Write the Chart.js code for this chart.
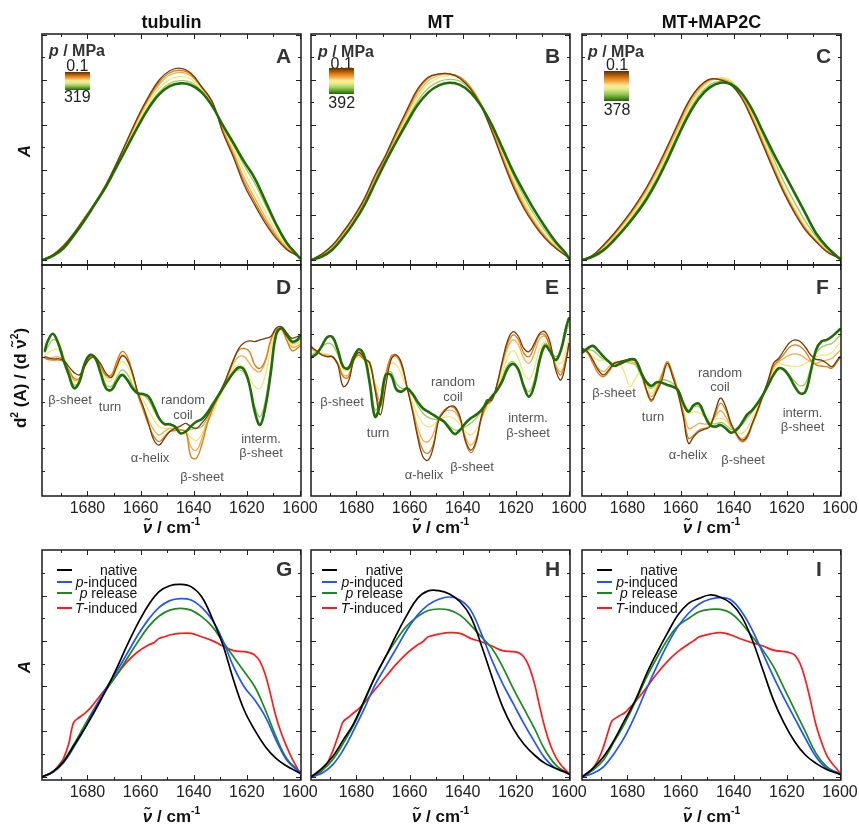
<!DOCTYPE html>
<html><head><meta charset="utf-8">
<script src="https://cdn.jsdelivr.net/npm/chart.js@4.4.0/dist/chart.umd.min.js"></script>
<style>
html,body{margin:0;padding:0;background:#fff}
body{width:859px;height:826px;position:relative;overflow:hidden;font-family:"Liberation Sans",Arial,Helvetica,sans-serif;color:#111}
canvas{position:absolute}
.t{position:absolute;white-space:nowrap;line-height:1}
.col{font-weight:bold;font-size:18px;color:#111}
.let{font-weight:bold;font-size:21px;color:#333}
.ann{font-size:13px;color:#555;text-align:center;line-height:14.5px}
.ax{font-weight:bold;font-size:17px;color:#111}
.leg{font-size:14px;color:#111}
.pl{font-weight:bold;font-size:16px;color:#333}
.num{font-size:16px;color:#222}
sup{font-size:0.6em;vertical-align:0.75em;line-height:0}
.bar,.ln{position:absolute}
</style></head><body>
<script>
// ---------- x positions (wavenumber, cm^-1) ----------
const wnAbs = [1697,1693,1689,1685,1681,1677,1673,1669,1665,1661,1657,1653,1649,1645,1641,1637,1633,1629,1625,1621,1617,1613,1609,1605,1601,1600];
const wnD = [1696,1695,1693,1691,1689,1687,1685,1683,1681,1679,1677,1675,1673,1671,1669,1667,1665,1663,1661,1659,1657,1655,1653,1651,1649,1647,1645,1643,1641,1639,1637,1635,1633,1631,1629,1627,1625,1623,1621,1619,1617,1615,1613,1611,1609,1607,1605,1603,1601,1600];
const wnEF = [1697,1695,1693,1691,1689,1687,1685,1683,1681,1679,1677,1675,1673,1671,1669,1667,1665,1663,1661,1659,1657,1655,1653,1651,1649,1647,1645,1643,1641,1639,1637,1635,1633,1631,1629,1627,1625,1623,1621,1619,1617,1615,1613,1611,1609,1607,1605,1603,1601,1600];
const wnRed = [1697,1695,1693,1691,1689,1687,1686,1685,1683,1681,1679,1677,1673,1669,1665,1661,1657,1655,1653,1651,1649,1645,1641,1637,1633,1629,1625,1621,1619,1617,1615,1613,1611,1609,1607,1605,1603,1601,1600];
const xTickLabels = [1680,1660,1640,1620,1600];

// ---------- A: tubulin absorbance, 0.1 MPa -> 319 MPa ----------
const tubAbs0 = [0,0.022,0.062,0.119,0.185,0.252,0.333,0.430,0.533,0.637,0.726,0.800,0.841,0.852,0.830,0.770,0.704,0.565,0.455,0.333,0.244,0.163,0.096,0.047,0.018,0.007];
const tubAbs1 = [0,0.024,0.065,0.122,0.190,0.258,0.338,0.432,0.532,0.632,0.720,0.790,0.832,0.843,0.825,0.768,0.700,0.572,0.465,0.348,0.258,0.175,0.105,0.050,0.019,0.007];
const tubAbs2 = [0,0.023,0.063,0.120,0.187,0.256,0.335,0.428,0.527,0.625,0.712,0.780,0.822,0.834,0.818,0.765,0.697,0.580,0.478,0.365,0.275,0.190,0.115,0.055,0.020,0.007];
const tubAbs3 = [0,0.021,0.060,0.117,0.183,0.254,0.332,0.423,0.518,0.612,0.697,0.763,0.803,0.815,0.804,0.760,0.693,0.588,0.495,0.395,0.305,0.215,0.130,0.060,0.020,0.007];
const tubAbs4 = [0,0.020,0.056,0.114,0.180,0.253,0.329,0.418,0.510,0.600,0.683,0.747,0.785,0.797,0.790,0.752,0.689,0.594,0.510,0.420,0.340,0.245,0.152,0.070,0.020,0.007];
const tubAbs5 = [0,0.018,0.052,0.111,0.178,0.252,0.326,0.415,0.504,0.593,0.674,0.736,0.773,0.785,0.778,0.745,0.684,0.598,0.519,0.437,0.363,0.262,0.160,0.077,0.021,0.008];
// ---------- B: MT absorbance, 0.1 -> 392 MPa ----------
const mtAbs0 = [0,0.027,0.067,0.126,0.193,0.274,0.378,0.467,0.570,0.667,0.759,0.812,0.827,0.827,0.807,0.759,0.681,0.570,0.444,0.326,0.230,0.156,0.096,0.052,0.018,0.006];
const mtAbs1 = [0,0.026,0.064,0.122,0.190,0.270,0.372,0.460,0.562,0.660,0.752,0.808,0.826,0.828,0.812,0.765,0.688,0.578,0.452,0.335,0.238,0.162,0.100,0.054,0.019,0.006];
const mtAbs2 = [0,0.024,0.061,0.117,0.183,0.262,0.362,0.452,0.552,0.648,0.738,0.797,0.820,0.826,0.813,0.768,0.692,0.585,0.462,0.346,0.248,0.170,0.106,0.057,0.020,0.006];
const mtAbs3 = [0,0.021,0.056,0.110,0.175,0.255,0.352,0.445,0.543,0.635,0.722,0.782,0.810,0.820,0.812,0.770,0.695,0.592,0.475,0.360,0.262,0.180,0.113,0.062,0.022,0.006];
const mtAbs4 = [0,0.018,0.050,0.104,0.170,0.250,0.345,0.440,0.535,0.622,0.705,0.763,0.793,0.803,0.795,0.757,0.690,0.597,0.487,0.378,0.283,0.200,0.130,0.070,0.024,0.006];
const mtAbs5 = [0,0.015,0.047,0.101,0.166,0.244,0.341,0.437,0.526,0.610,0.689,0.744,0.776,0.788,0.778,0.744,0.684,0.600,0.496,0.393,0.304,0.222,0.148,0.081,0.027,0.006];
// ---------- C: MT+MAP2C absorbance, 0.1 -> 378 MPa ----------
const mapAbs0 = [0,0.022,0.067,0.119,0.178,0.244,0.319,0.407,0.504,0.607,0.704,0.770,0.804,0.800,0.778,0.719,0.622,0.511,0.400,0.296,0.207,0.133,0.081,0.037,0.012,0.006];
const mapAbs1 = [0,0.021,0.064,0.116,0.175,0.240,0.315,0.402,0.498,0.600,0.698,0.766,0.802,0.802,0.781,0.724,0.628,0.518,0.407,0.302,0.212,0.138,0.084,0.039,0.012,0.006];
const mapAbs2 = [0,0.020,0.060,0.110,0.168,0.232,0.305,0.390,0.485,0.587,0.685,0.757,0.798,0.805,0.788,0.733,0.638,0.528,0.417,0.310,0.220,0.143,0.088,0.041,0.013,0.006];
const mapAbs3 = [0,0.018,0.055,0.102,0.160,0.222,0.294,0.378,0.472,0.574,0.672,0.748,0.795,0.810,0.797,0.742,0.648,0.540,0.428,0.320,0.228,0.150,0.092,0.044,0.013,0.006];
const mapAbs4 = [0,0.016,0.050,0.096,0.150,0.210,0.280,0.362,0.458,0.560,0.658,0.733,0.779,0.795,0.790,0.742,0.660,0.556,0.450,0.345,0.255,0.172,0.104,0.050,0.014,0.006];
const mapAbs5 = [0,0.015,0.044,0.089,0.141,0.200,0.267,0.348,0.444,0.548,0.644,0.719,0.767,0.788,0.781,0.741,0.667,0.570,0.474,0.385,0.296,0.207,0.119,0.059,0.015,0.006];

// ---------- D: tubulin second derivative ----------
const tubD0 = [0,-0.04,-0.10,-0.09,-0.15,-0.44,-0.70,-0.80,-0.41,-0.09,-0.04,-0.32,-0.73,-0.91,-0.44,0.03,-0.15,-0.73,-1.58,-2.19,-2.92,-3.65,-3.87,-3.58,-3.28,-3.14,-3.04,-2.92,-3.07,-3.14,-2.92,-2.63,-2.19,-1.75,-1.28,-0.73,-0.15,0.36,0.61,0.69,0.66,0.73,0.80,0.88,1.24,1.31,1.05,0.80,0.88,0.90];
const tubD1 = [-0.07,-0.12,-0.15,-0.15,-0.22,-0.58,-0.95,-0.95,-0.44,-0.03,-0.03,-0.44,-0.80,-0.80,-0.22,0.22,0,-0.73,-1.68,-2.34,-2.99,-3.50,-3.72,-3.50,-3.28,-3.24,-3.21,-3.28,-4.38,-4.45,-3.87,-2.99,-2.34,-1.82,-1.39,-0.73,-0.12,0.29,0.36,0.22,-0.36,-0.51,-0.15,0.73,1.17,1.24,0.73,0.26,0.36,0.47];
const tubD2 = [-0.07,-0.10,-0.03,0,-0.15,-0.58,-1.02,-0.95,-0.41,-0.03,-0.04,-0.44,-0.88,-0.88,-0.32,0.07,-0.15,-0.80,-1.61,-2.19,-2.77,-3.21,-3.43,-3.28,-3.14,-3.18,-3.21,-3.28,-3.95,-4.10,-3.60,-2.90,-2.30,-1.85,-1.39,-0.80,-0.29,0,0,-0.29,-0.58,-0.66,-0.22,0.66,1.17,1.17,0.73,0.41,0.47,0.55];
const tubD3 = [0.07,0.15,0.29,0.32,0,-0.58,-1.09,-1.02,-0.41,0,-0.07,-0.58,-1.02,-1.05,-0.58,-0.22,-0.41,-0.95,-1.53,-1.90,-2.34,-2.77,-3.07,-3.14,-3.14,-3.14,-3.21,-3.28,-3.55,-3.68,-3.40,-2.90,-2.50,-1.97,-1.39,-0.88,-0.51,-0.36,-0.51,-0.95,-1.31,-1.39,-0.80,0.29,1.09,1.24,0.85,0.51,0.58,0.66];
const tubD4 = [0.18,0.41,0.73,0.66,0,-0.73,-1.24,-1.09,-0.41,0,-0.12,-0.73,-1.24,-1.31,-0.91,-0.58,-0.76,-1.24,-1.58,-1.68,-1.90,-2.34,-2.74,-2.95,-2.95,-3.04,-3.21,-3.24,-3.18,-3.14,-3.07,-2.74,-2.26,-1.82,-1.39,-1.02,-0.73,-0.58,-0.70,-1.24,-2.19,-2.63,-1.90,-0.44,0.99,1.24,0.91,0.58,0.66,0.76];
const tubD5 = [0.26,0.66,1.00,0.58,-0.15,-0.80,-1.38,-1.10,-0.29,0.07,-0.07,-0.73,-1.39,-1.46,-1.09,-0.80,-1.02,-1.39,-1.61,-1.64,-1.75,-2.19,-2.70,-2.95,-2.96,-3.07,-3.36,-3.28,-3.04,-2.85,-2.74,-2.48,-2.12,-1.75,-1.39,-1.02,-0.69,-0.47,-0.58,-1.24,-2.41,-2.99,-2.19,-0.73,0.95,1.24,0.95,0.66,0.73,0.90];
// ---------- E: MT second derivative ----------
const mtD0 = [0.41,0.26,0.07,0,0,-0.36,-1.30,-1.09,-0.15,0.18,-0.07,-0.29,-1.46,-2.55,-1.31,-0.15,0.07,-0.29,-1.31,-2.34,-3.50,-4.38,-4.53,-3.94,-2.77,-2.41,-2.19,-2.19,-2.63,-3.65,-4.09,-3.72,-2.63,-1.90,-1.90,-1.17,-0.15,0.73,1.09,0.88,0.36,0.22,0.58,1.02,1.09,0.58,-0.58,-1.02,-0.15,0.58];
const mtD1 = [0.47,0.22,0.07,0,-0.03,-0.32,-0.88,-0.91,-0.15,0.07,-0.15,-0.22,-1.31,-2.19,-0.88,0,0.07,-0.36,-1.31,-2.26,-3.36,-4.09,-4.23,-3.80,-2.70,-2.34,-2.19,-2.26,-2.70,-3.72,-4.20,-3.80,-2.70,-2.12,-1.90,-1.17,-0.22,0.58,0.95,0.73,0.15,0,0.44,0.95,0.95,0.36,-0.44,-0.80,0,0.58];
const mtD2 = [0.36,0.22,0.10,0.07,0,-0.29,-0.80,-0.80,-0.15,0.07,-0.12,-0.29,-1.24,-1.90,-0.80,-0.07,0,-0.44,-1.31,-2.19,-3.07,-3.65,-3.72,-3.36,-2.70,-2.41,-2.34,-2.41,-2.77,-3.50,-3.87,-3.58,-2.77,-2.12,-1.90,-1.24,-0.36,0.41,0.73,0.51,-0.07,-0.29,0.15,0.80,0.88,0.36,-0.36,-0.66,0,0.51];
const mtD3 = [0.29,0.22,0.15,0.10,-0.03,-0.29,-0.58,-0.58,-0.15,0,-0.15,-0.44,-1.17,-1.46,-0.66,-0.29,-0.36,-0.80,-1.39,-1.97,-2.55,-2.92,-3.07,-2.99,-2.77,-2.66,-2.63,-2.74,-2.99,-3.28,-3.43,-3.21,-2.74,-2.26,-1.90,-1.39,-0.73,0,0.26,-0.07,-0.73,-0.99,-0.51,0.36,0.66,0.44,-0.15,-0.29,0.36,0.80];
const mtD4 = [0.07,0.22,0.41,0.58,0.51,0.07,-0.44,-0.44,0,0.22,0,-0.95,-2.34,-1.90,-0.80,-0.66,-1.17,-1.39,-1.39,-1.68,-2.12,-2.48,-2.66,-2.74,-2.77,-2.85,-3.04,-3.21,-3.21,-3.07,-2.92,-2.70,-2.41,-2.07,-1.75,-1.39,-0.88,-0.36,-0.22,-0.58,-1.24,-1.53,-1.02,0,0.58,0.36,0,0.29,1.09,1.39];
const mtD5 = [-0.03,0.12,0.47,0.85,0.85,0.29,-0.44,-0.51,0,0.32,0,-1.17,-2.63,-2.04,-0.80,-0.80,-1.43,-1.53,-1.39,-1.61,-1.97,-2.26,-2.41,-2.55,-2.70,-2.85,-3.14,-3.39,-3.21,-2.92,-2.70,-2.55,-2.34,-2.04,-1.75,-1.46,-1.05,-0.51,-0.32,-0.58,-1.31,-1.75,-1.24,-0.15,0.47,0.22,-0.15,0.29,1.31,1.68];
// ---------- F: MT+MAP2C second derivative ----------
const mapD0 = [0.36,0.22,-0.15,-0.58,-0.80,-0.58,-0.29,-0.22,-0.15,-0.12,-0.15,-0.58,-1.39,-1.90,-1.53,-1.02,-0.29,-0.88,-1.61,-2.63,-3.80,-3.50,-3.28,-3.18,-3.07,-2.41,-1.82,-2.19,-2.92,-3.36,-3.65,-3.50,-2.92,-2.34,-1.68,-1.02,-0.29,-0.07,0.29,0.61,0.73,0.66,0.41,0.07,-0.12,-0.15,-0.29,-0.44,-0.15,0];
const mapD1 = [0.32,0.15,-0.29,-0.73,-0.88,-0.66,-0.32,-0.22,-0.18,-0.15,-0.18,-0.66,-1.46,-1.97,-1.46,-0.80,-0.22,-0.73,-1.53,-2.48,-3.58,-3.43,-3.21,-3.14,-3.04,-2.55,-2.04,-2.34,-2.99,-3.43,-3.72,-3.58,-2.99,-2.41,-1.75,-1.09,-0.41,-0.15,0.12,0.41,0.51,0.44,0.22,-0.15,-0.36,-0.41,-0.44,-0.51,-0.22,-0.07];
const mapD2 = [0.29,0.18,-0.15,-0.51,-0.66,-0.44,-0.26,-0.22,-0.22,-0.22,-0.29,-0.70,-1.39,-1.75,-1.39,-0.80,-0.36,-0.80,-1.53,-2.34,-3.14,-3.07,-2.92,-2.95,-2.92,-2.63,-2.37,-2.63,-3.07,-3.39,-3.58,-3.43,-2.92,-2.34,-1.75,-1.09,-0.47,-0.22,-0.07,0.07,0.12,0.07,-0.07,-0.22,-0.29,-0.22,-0.15,-0.07,0.15,0.26];
const mapD3 = [0.26,0.22,0,-0.15,-0.15,-0.19,-0.29,-0.29,-0.73,-1.31,-0.95,-0.66,-1.17,-1.61,-1.24,-0.73,-0.44,-0.80,-1.39,-2.04,-2.48,-2.41,-2.45,-2.63,-2.74,-2.74,-2.70,-2.80,-3.07,-3.28,-3.36,-3.14,-2.70,-2.19,-1.68,-1.09,-0.58,-0.32,-0.36,-0.41,-0.44,-0.41,-0.29,-0.15,0,0.07,0.07,0.18,0.47,0.58];
const mapD4 = [0.22,0.29,0.26,0.07,-0.12,-0.22,-0.29,-0.26,-0.22,-0.29,-0.36,-0.80,-1.24,-1.39,-1.20,-1.02,-1.05,-1.17,-1.43,-1.97,-2.34,-2.19,-2.19,-2.55,-2.88,-2.95,-2.88,-2.99,-3.18,-3.14,-2.99,-2.70,-2.41,-2.07,-1.68,-1.20,-0.76,-0.51,-0.58,-0.80,-1.09,-1.28,-1.17,-0.51,0.15,0.41,0.51,0.58,0.80,0.91];
const mapD5 = [0.18,0.36,0.47,0.26,0,-0.22,-0.41,-0.32,-0.22,-0.12,-0.15,-0.66,-1.09,-1.28,-1.12,-1.14,-1.24,-1.31,-1.46,-2.04,-2.41,-2.12,-2.07,-2.55,-2.99,-3.07,-2.99,-3.14,-3.33,-3.21,-2.92,-2.55,-2.34,-2.04,-1.68,-1.24,-0.80,-0.51,-0.58,-0.88,-1.31,-1.61,-1.53,-0.66,0.29,0.66,0.73,0.88,1.09,1.20];

// ---------- G/H/I: native, p-induced, p release, T-induced ----------
const tubNative = [0,0.022,0.066,0.140,0.214,0.295,0.383,0.479,0.583,0.678,0.760,0.819,0.845,0.851,0.841,0.796,0.700,0.583,0.428,0.295,0.206,0.133,0.081,0.047,0.022,0.015];
const tubPInd   = [0,0.019,0.062,0.133,0.214,0.307,0.391,0.465,0.546,0.627,0.696,0.749,0.779,0.788,0.782,0.749,0.693,0.602,0.487,0.398,0.339,0.265,0.162,0.074,0.029,0.022];
const tubPRel   = [0,0.022,0.071,0.145,0.229,0.310,0.383,0.450,0.524,0.597,0.664,0.711,0.737,0.745,0.737,0.708,0.664,0.597,0.531,0.465,0.398,0.295,0.177,0.081,0.032,0.022];
const tubTInd   = [0,0.007,0.022,0.047,0.081,0.147,0.206,0.243,0.263,0.280,0.302,0.332,0.391,0.450,0.509,0.553,0.583,0.593,0.612,0.619,0.627,0.634,0.634,0.619,0.602,0.578,0.558,0.553,0.549,0.538,0.509,0.450,0.361,0.265,0.192,0.133,0.081,0.037,0.015];
const mtNative = [0,0.037,0.088,0.162,0.236,0.339,0.442,0.531,0.627,0.715,0.789,0.822,0.823,0.808,0.774,0.708,0.583,0.442,0.310,0.214,0.145,0.096,0.059,0.037,0.018,0.012];
const mtPInd   = [0,0.015,0.052,0.118,0.206,0.302,0.406,0.487,0.568,0.649,0.715,0.760,0.785,0.795,0.782,0.737,0.634,0.516,0.413,0.324,0.236,0.155,0.081,0.037,0.018,0.012];
const mtPRel   = [0,0.027,0.074,0.147,0.229,0.332,0.442,0.531,0.605,0.667,0.708,0.735,0.742,0.737,0.715,0.671,0.619,0.568,0.487,0.391,0.302,0.214,0.118,0.052,0.019,0.012];
const mtTInd   = [0,0.007,0.027,0.059,0.111,0.177,0.212,0.243,0.263,0.283,0.302,0.327,0.386,0.442,0.498,0.546,0.583,0.597,0.619,0.625,0.631,0.637,0.634,0.612,0.597,0.578,0.558,0.553,0.549,0.531,0.487,0.413,0.310,0.214,0.140,0.088,0.052,0.027,0.015];
const mapNative = [0,0.037,0.088,0.162,0.251,0.339,0.450,0.546,0.634,0.715,0.767,0.789,0.804,0.794,0.767,0.708,0.605,0.472,0.339,0.236,0.155,0.096,0.059,0.032,0.015,0.010];
const mapPInd   = [0,0.015,0.044,0.103,0.177,0.273,0.383,0.487,0.583,0.664,0.723,0.764,0.785,0.792,0.782,0.730,0.649,0.546,0.442,0.347,0.258,0.170,0.088,0.037,0.018,0.012];
const mapPRel   = [0,0.029,0.074,0.155,0.236,0.332,0.435,0.524,0.605,0.667,0.700,0.730,0.740,0.740,0.723,0.678,0.619,0.560,0.487,0.391,0.295,0.199,0.103,0.044,0.018,0.012];
const mapTInd   = [0,0.012,0.037,0.074,0.133,0.209,0.243,0.255,0.270,0.283,0.307,0.332,0.391,0.454,0.509,0.553,0.587,0.602,0.619,0.625,0.631,0.637,0.627,0.608,0.593,0.578,0.560,0.553,0.549,0.538,0.501,0.428,0.332,0.229,0.155,0.096,0.059,0.032,0.015];

const columnTitles = ['tubulin','MT','MT+MAP2C'];
const panelLetters = [['A','B','C'],['D','E','F'],['G','H','I']];
const pressureMax = ['319','392','378'];
const seriesNames = ['native','<i>p</i>-induced','<i>p</i> release','<i>T</i>-induced'];

// ---------- styling / layout ----------
const pColors = ['#6e3c0e','#e2780c','#f6ad45','#f1e874','#9fcb5d','#1f6c08'];
const bColors = ['#000000','#1f55ff','#1a8a1a','#ff1a1a'];
const COLS = [42, 311, 582], PW = 259;
const ROWS = [
  {top:34, h:231, ymin:-0.0222, ymax:1.0044, t0:0, t1:1.0, st:0.1},
  {top:265,h:231, ymin:-6.10,   ymax:4.01,   t0:-5, t1:3,  st:1},
  {top:550,h:230, ymin:-0.0146, ymax:1.003,  t0:0, t1:0.9, st:0.1}
];
const XMIN = 1599.6, XMAX = 1697.1;
const FONT = '"Liberation Sans", Arial, Helvetica, sans-serif';

const framePlugin = {
  id:'frame',
  afterDatasetsDraw(chart, args, o){
    const {ctx, chartArea:a, scales:{x, y}} = chart;
    ctx.save();
    ctx.strokeStyle = '#222'; ctx.lineWidth = 1;
    ctx.beginPath();
    for (let v = 1600; v <= 1690; v += 10){
      const px = Math.round(x.getPixelForValue(v)) + 0.5;
      const len = (v % 20 === 0) ? 5 : 3;
      ctx.moveTo(px, a.top); ctx.lineTo(px, a.top + len);
      ctx.moveTo(px, a.bottom); ctx.lineTo(px, a.bottom - len);
    }
    const n = Math.round((o.t1 - o.t0) / o.st);
    for (let i = 0; i <= n; i++){
      const v = o.t0 + i * o.st;
      const py = Math.round(y.getPixelForValue(v)) + 0.5;
      const len = o.uniform ? 3 : (i % 2 === 0 ? 5 : 3);
      ctx.moveTo(a.left, py); ctx.lineTo(a.left + len, py);
      ctx.moveTo(a.right, py); ctx.lineTo(a.right - len, py);
    }
    ctx.stroke();
    ctx.lineWidth = 1.5; ctx.strokeStyle = '#1a1a1a';
    ctx.strokeRect(a.left, a.top, a.right - a.left, a.bottom - a.top);
    ctx.restore();
  }
};

function makeChart(col, row, datasets){
  const r = ROWS[row];
  const PL = 25, PR = 25, PT = 5, PB = row === 0 ? 5 : 30;
  const cv = document.createElement('canvas');
  const w = PW + PL + PR, h = r.h + PT + PB;
  cv.width = w; cv.height = h;
  cv.style.left = (COLS[col] - PL) + 'px'; cv.style.top = (r.top - PT) + 'px';
  cv.style.width = w + 'px'; cv.style.height = h + 'px';
  document.body.appendChild(cv);
  new Chart(cv, {
    type:'line',
    data:{datasets},
    options:{
      responsive:false, animation:false, devicePixelRatio:1,
      layout:{padding:{left:PL, right:PR, top:PT, bottom: row === 0 ? PB : 0}},
      plugins:{legend:{display:false}, tooltip:{enabled:false},
        frame:{t0:r.t0, t1:r.t1, st:r.st, uniform: row === 1}},
      elements:{point:{radius:0}, line:{tension:0.4, borderCapStyle:'round', borderJoinStyle:'round'}},
      scales:{
        x:{type:'linear', reverse:true, min:XMIN, max:XMAX, display: row > 0,
           afterFit:s => { s.height = row > 0 ? 30 : 0; },
           grid:{display:false, drawTicks:false}, border:{display:false},
           afterBuildTicks:s => { s.ticks = xTickLabels.map(v => ({value:v})); },
           ticks:{autoSkip:false, maxRotation:0, padding:3, color:'#222',
                  font:{family:FONT, size:16}, callback:v => String(v)}},
        y:{type:'linear', display:false, min:r.ymin, max:r.ymax}
      }
    },
    plugins:[framePlugin]
  });
}

function pSets(xs, arrs){
  return [5,0,1,2,3,4].map(i => ({
    data: xs.map((v,k) => ({x:v, y:arrs[i][k]})),
    borderColor: pColors[i], borderWidth: i === 5 ? 2.6 : 1.3, fill:false
  }));
}
function bSets(nat, pin, prel, tin){
  const arrs = [[wnAbs,nat],[wnAbs,pin],[wnAbs,prel],[wnRed,tin]];
  return arrs.map(([xs,ys],i) => ({
    data: xs.map((v,k) => ({x:v, y:ys[k]})),
    borderColor: bColors[i], borderWidth: 1.7, fill:false
  }));
}

makeChart(0,0,pSets(wnAbs,[tubAbs0,tubAbs1,tubAbs2,tubAbs3,tubAbs4,tubAbs5]));
makeChart(1,0,pSets(wnAbs,[mtAbs0,mtAbs1,mtAbs2,mtAbs3,mtAbs4,mtAbs5]));
makeChart(2,0,pSets(wnAbs,[mapAbs0,mapAbs1,mapAbs2,mapAbs3,mapAbs4,mapAbs5]));
makeChart(0,1,pSets(wnD,[tubD0,tubD1,tubD2,tubD3,tubD4,tubD5]));
makeChart(1,1,pSets(wnEF,[mtD0,mtD1,mtD2,mtD3,mtD4,mtD5]));
makeChart(2,1,pSets(wnEF,[mapD0,mapD1,mapD2,mapD3,mapD4,mapD5]));
makeChart(0,2,bSets(tubNative,tubPInd,tubPRel,tubTInd));
makeChart(1,2,bSets(mtNative,mtPInd,mtPRel,mtTInd));
makeChart(2,2,bSets(mapNative,mapPInd,mapPRel,mapTInd));

// ---------- text ----------
function T(x, y, html, cls, al, rot){
  const d = document.createElement('div');
  d.className = 't ' + cls; d.innerHTML = html;
  d.style.left = x + 'px'; d.style.top = y + 'px';
  const tx = al === 'l' ? '0' : (al === 'r' ? '-100%' : '-50%');
  d.style.transform = 'translate(' + tx + ',-50%)' + (rot ? ' rotate(' + rot + 'deg)' : '');
  document.body.appendChild(d);
}
const NU = '\u03BD\u0303';
for (let c = 0; c < 3; c++){
  const cx = COLS[c] + PW / 2;
  T(cx, 22, columnTitles[c], 'col');
  const lx = COLS[c] + 234;
  T(lx, 55, panelLetters[0][c], 'let', 'l');
  T(lx, 286, panelLetters[1][c], 'let', 'l');
  T(lx, 567.5, panelLetters[2][c], 'let', 'l');
  T(cx, 527, '<i>' + NU + '</i> / cm<sup>-1</sup>', 'ax');
  T(cx, 816, '<i>' + NU + '</i> / cm<sup>-1</sup>', 'ax');
}
T(24, 151, '<i>A</i>', 'ax', 'c', -90);
T(24, 667, '<i>A</i>', 'ax', 'c', -90);
T(20, 378, 'd<sup>2</sup> (A) / (d ' + NU + '<sup>2</sup>)', 'ax', 'c', -90);

// pressure colour bars
const bars = [
  {x:49, tx:77.3, py:51, y0:65.5, bl:65, bt:71.7, bh:18.3, y1:97},
  {x:318, tx:341.7, py:51.5, y0:63.5, bl:329.3, bt:68.3, bh:25.7, y1:103.3},
  {x:588, tx:617, py:52, y0:64.5, bl:604.3, bt:71, bh:30, y1:109.6}
];
bars.forEach((b,i) => {
  T(b.x, b.py, '<i>p</i> / MPa', 'pl', 'l');
  T(b.tx, b.y0, '0.1', 'num');
  T(b.tx, b.y1, pressureMax[i], 'num');
  const d = document.createElement('div'); d.className = 'bar';
  d.style.cssText = 'left:'+b.bl+'px;top:'+b.bt+'px;width:25px;height:'+b.bh+'px;background:linear-gradient(to bottom,#5a2c02 0%,#a0560a 12%,#e57e10 24%,#f8ac45 36%,#fde6a8 47%,#f3ef7c 56%,#d2e58a 64%,#a3cd5c 75%,#5b9d2d 88%,#1c6606 100%)';
  document.body.appendChild(d);
});

// annotations
const ann = [
  [70,400,'β-sheet'],[110,407,'turn'],[183,407,'random<br>coil'],[150,458,'α-helix'],[202,477,'β-sheet'],[261,445.5,'interm.<br>β-sheet'],
  [342,402,'β-sheet'],[378,433,'turn'],[453,389,'random<br>coil'],[424,475,'α-helix'],[472,467,'β-sheet'],[528,425,'interm.<br>β-sheet'],
  [614,393,'β-sheet'],[653,417,'turn'],[720,379.5,'random<br>coil'],[688,455,'α-helix'],[743,460,'β-sheet'],[802.5,419.5,'interm.<br>β-sheet']
];
ann.forEach(a => T(a[0], a[1], a[2], 'ann'));

// legends G/H/I
const legs = [{l:56.5, r:137.3},{l:322, r:403},{l:596.5, r:677.7}];
const legY = [570, 581.7, 593.3, 607.7];
legs.forEach(g => {
  for (let i = 0; i < 4; i++){
    const ln = document.createElement('div'); ln.className = 'ln';
    ln.style.cssText = 'left:'+g.l+'px;top:'+(legY[i]-1)+'px;width:15px;height:2px;background:'+bColors[i];
    document.body.appendChild(ln);
    T(g.r, legY[i], seriesNames[i], 'leg', 'r');
  }
});
</script>
</body></html>
